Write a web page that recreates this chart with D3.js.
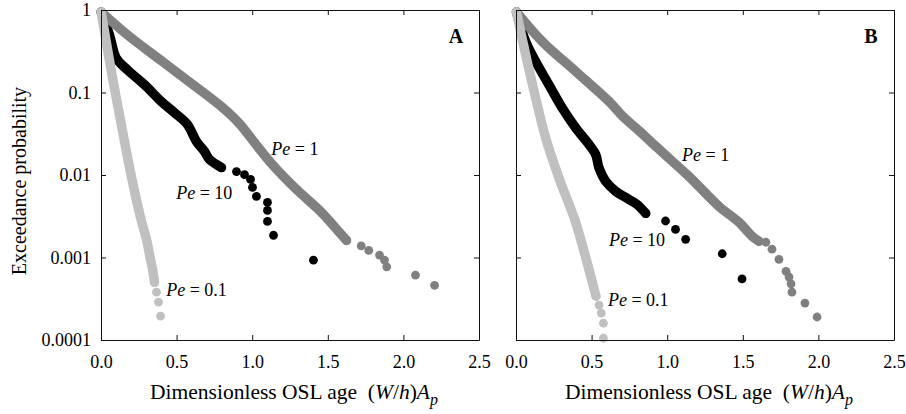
<!DOCTYPE html>
<html>
<head>
<meta charset="utf-8">
<script src="https://cdn.jsdelivr.net/npm/d3@7"></script>
<style>
body { margin: 0; background: #fff; }
svg, svg text, svg tspan { font-family: "Liberation Serif", "DejaVu Serif", "Times New Roman", Times, serif !important; }
svg text { fill: #000; }
.tick text { font-size: 18px; }
</style>
</head>
<body>
<div id="chart"></div>
<script>
// values: [dimensionless age (W/h)Ap, exceedance probability]
// "band" = densely packed points, "tail" = separate points at the end

// ---- panel A ----
var aPe10Band = [[0.001,0.946],[0.056,0.499],[0.101,0.261],[0.175,0.188],[0.288,0.124],[0.400,0.0773],
  [0.486,0.0569],[0.572,0.0408],[0.632,0.0254],[0.685,0.0192],[0.718,0.0154],[0.764,0.0134],[0.797,0.0123]];
var aPe10Tail = [[0.896,0.0110],[0.949,0.0101],[0.989,0.00883],[1.002,0.00706],[1.028,0.00550],
  [1.101,0.00465],[1.101,0.00372],[1.101,0.00274],[1.141,0.00186],[1.405,0.000927]];

var aPe1Band = [[0.001,0.946],[0.175,0.499],[0.400,0.242],[0.618,0.121],[0.797,0.0673],[0.916,0.0419],
  [1.015,0.0247],[1.128,0.01377],[1.293,0.00668],[1.445,0.00372],[1.577,0.00202],[1.624,0.00161]];
var aPe1Tail = [[1.721,0.00138],[1.771,0.00122],[1.842,0.00107],[1.875,0.00093],[1.890,0.00077],
  [2.080,0.00061],[2.206,0.00046]];

var aPe01Band = [[0.001,0.946],[0.069,0.178],[0.122,0.0538],[0.172,0.0177],[0.222,0.00633],[0.268,0.00274],
  [0.301,0.00166],[0.324,0.00101],[0.341,0.00072],[0.354,0.00050]];
var aPe01Tail = [[0.367,0.00038],[0.380,0.000288],[0.394,0.000195]];

// ---- panel B ----
var bPe10Band = [[0.003,0.946],[0.064,0.414],[0.130,0.237],[0.218,0.124],[0.306,0.0649],[0.395,0.0372],
  [0.483,0.0234],[0.527,0.0177],[0.549,0.0122],[0.593,0.00841],[0.659,0.00637],[0.747,0.00506],
  [0.800,0.00440],[0.858,0.00343]];
var bPe10Tail = [[0.989,0.00277],[1.055,0.00219],[1.122,0.00166],[1.364,0.00111],[1.495,0.00055]];

var bPe1Band = [[0.003,0.946],[0.174,0.414],[0.395,0.180],[0.615,0.0780],[0.708,0.0509],[0.835,0.0317],
  [0.926,0.0221],[1.144,0.00959],[1.343,0.00416],[1.475,0.00267],[1.561,0.00181],[1.607,0.00157]];
var bPe1Tail = [[1.653,0.00153],[1.693,0.00126],[1.739,0.00095],[1.786,0.00068],[1.806,0.00058],
  [1.819,0.00048],[1.825,0.00038],[1.911,0.00028],[1.991,0.00019]];

var bPe01Band = [[0.003,0.946],[0.064,0.286],[0.130,0.0857],[0.196,0.0282],[0.284,0.00925],[0.390,0.00282],
  [0.450,0.00119],[0.496,0.000577],[0.529,0.000340]];
var bPe01Tail = [[0.549,0.000265],[0.564,0.000212],[0.578,0.000160],[0.578,0.000105]];

// ticks
var xTicks = [0, 0.5, 1, 1.5, 2, 2.5];
var yTicks = [1, 0.1, 0.01, 0.001, 0.0001];
var yTickLabels = ["1", "0.1", "0.01", "0.001", "0.0001"];

// curve labels: Pe value and where the label sits (age, probability)
var peNames = ["1", "10", "0.1"];
var aLabelAge = [1.126, 0.497, 0.431];
var aLabelProb = [0.0177, 0.00506, 0.00034];
var bLabelAge = [1.098, 0.615, 0.608];
var bLabelProb = [0.01468, 0.00138, 0.00026];

var colors = { pe10: "#000000", pe1: "#808080", pe01: "#c0c0c0" };

var svg = d3.select("#chart").append("svg")
    .attr("width", 906)
    .attr("height", 414)
    .attr("font-family", "Liberation Serif, DejaVu Serif, serif");

var plotTop = 10, plotBottom = 340, plotWidth = 378;

function drawSeries(g, x, y, band, tail, color) {
    var line = d3.line()
        .curve(d3.curveCatmullRom.alpha(0.5))
        .x(function(d) { return x(d[0]); })
        .y(function(d) { return y(d[1]); });

    g.append("path")
        .datum(band)
        .attr("d", line)
        .attr("fill", "none")
        .attr("stroke", color)
        .attr("stroke-width", 9.5)
        .attr("stroke-linecap", "round")
        .attr("stroke-linejoin", "round");

    g.selectAll(null)
        .data(band.concat(tail))
        .enter()
        .append("circle")
        .attr("cx", function(d) { return x(d[0]); })
        .attr("cy", function(d) { return y(d[1]); })
        .attr("r", 4.4)
        .attr("fill", color);
}

function drawPanel(x0, letter, series, labelAge, labelProb, showYLabels) {
    var x = d3.scaleLinear().domain([0, 2.5]).range([x0, x0 + plotWidth]);
    var y = d3.scaleLog().domain([0.0001, 1]).range([plotBottom, plotTop]);

    var g = svg.append("g");

    // data first, frame on top
    var dataG = g.append("g");
    drawSeries(dataG, x, y, series[0], series[1], colors.pe10);
    drawSeries(dataG, x, y, series[2], series[3], colors.pe1);
    drawSeries(dataG, x, y, series[4], series[5], colors.pe01);

    var axes = [];
    axes.push(g.append("g")
        .attr("transform", "translate(0," + plotBottom + ")")
        .call(d3.axisBottom(x).tickValues(xTicks).tickFormat(d3.format(".1f"))
            .tickSize(-5).tickSizeOuter(0).tickPadding(15)));
    axes.push(g.append("g")
        .attr("transform", "translate(0," + plotTop + ")")
        .call(d3.axisTop(x).tickValues(xTicks).tickFormat("").tickSize(-5).tickSizeOuter(0)));
    axes.push(g.append("g")
        .attr("transform", "translate(" + x0 + ",0)")
        .call(d3.axisLeft(y).tickValues(yTicks)
            .tickFormat(function(d, i) { return showYLabels ? yTickLabels[i] : ""; })
            .tickSize(-5).tickSizeOuter(0).tickPadding(10)));
    axes.push(g.append("g")
        .attr("transform", "translate(" + (x0 + plotWidth) + ",0)")
        .call(d3.axisRight(y).tickValues(yTicks).tickFormat("").tickSize(-5).tickSizeOuter(0)));
    axes.forEach(function(a) {
        a.attr("font-family", null).attr("font-size", 18);
    });

    g.selectAll(".domain, .tick line").attr("stroke", "#111");

    // curve labels
    for (var i = 0; i < peNames.length; i++) {
        var t = g.append("text")
            .attr("x", x(labelAge[i]))
            .attr("y", y(labelProb[i]))
            .attr("font-size", 18);
        t.append("tspan").attr("font-style", "italic").text("Pe");
        t.append("tspan").text(" = " + peNames[i]);
    }

    // panel letter
    g.append("text")
        .attr("x", x0 + 355)
        .attr("y", 43)
        .attr("text-anchor", "middle")
        .attr("font-size", 20)
        .attr("font-weight", "bold")
        .text(letter);

    // x axis title
    var title = g.append("text")
        .attr("x", x(1.25) + 4)
        .attr("y", 399)
        .attr("text-anchor", "middle")
        .attr("font-size", 21.5)
        .style("white-space", "pre");
    title.append("tspan").text("Dimensionless OSL age  (");
    title.append("tspan").attr("font-style", "italic").text("W");
    title.append("tspan").text("/");
    title.append("tspan").attr("font-style", "italic").text("h");
    title.append("tspan").text(")");
    title.append("tspan").attr("font-style", "italic").text("A");
    title.append("tspan").attr("font-style", "italic").attr("font-size", 16).attr("dy", 6).text("p");
}

drawPanel(101, "A", [aPe10Band, aPe10Tail, aPe1Band, aPe1Tail, aPe01Band, aPe01Tail], aLabelAge, aLabelProb, true);
drawPanel(516, "B", [bPe10Band, bPe10Tail, bPe1Band, bPe1Tail, bPe01Band, bPe01Tail], bLabelAge, bLabelProb, false);

// y axis title
svg.append("text")
    .attr("transform", "translate(26,181) rotate(-90)")
    .attr("text-anchor", "middle")
    .attr("font-size", 20)
    .text("Exceedance probability");
</script>
</body>
</html>
